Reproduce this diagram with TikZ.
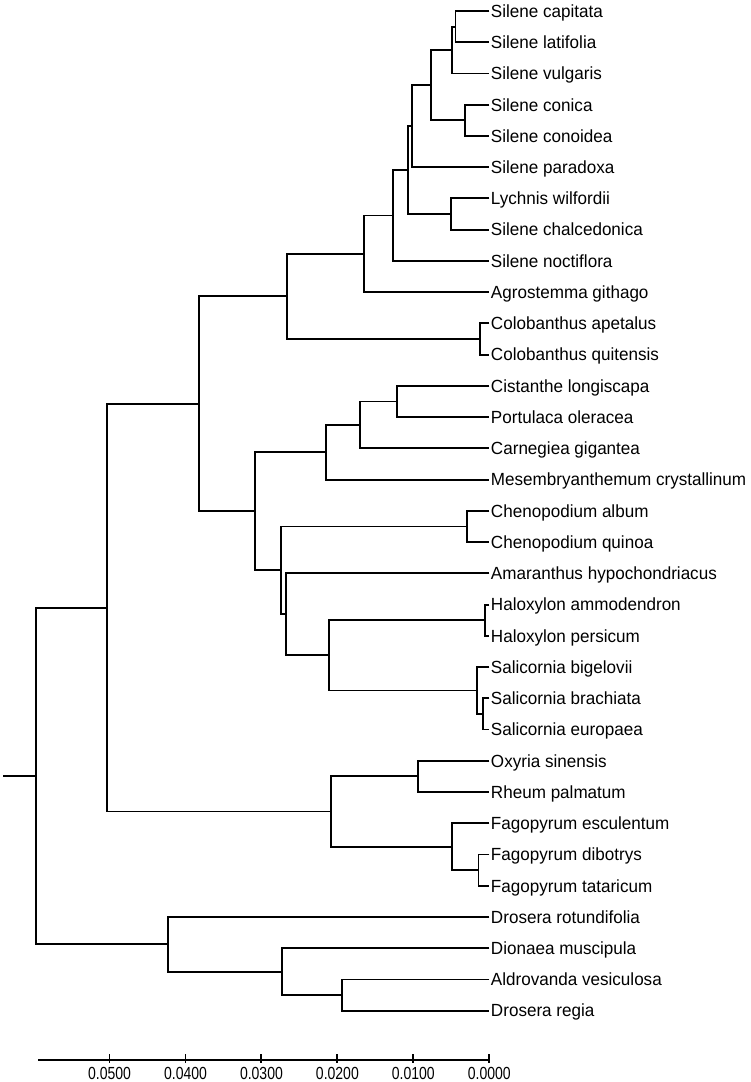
\documentclass[tikz,border=0pt]{standalone}
\usepackage{fontspec}
\newfontfamily\taxonfont{Liberation Sans}[FakeStretch=0.97]
\newfontfamily\axisfont{Liberation Sans}[FakeStretch=0.8]
\usetikzlibrary{calc}
\tikzset{
  branch/.style={line width=1.9pt, black},
  taxon/.style={anchor=west, inner xsep=1.5pt, inner ysep=0pt,
    text height=12.6pt, text depth=0pt,
    font=\taxonfont\fontsize{17.6}{20}\selectfont},
  axislabel/.style={anchor=north, inner sep=0pt,
    font=\axisfont\fontsize{17.5}{20}\selectfont}
}

\begin{document}
\begin{tikzpicture}[x={(-75.95pt,0)}, y={(0,31.24pt)}]
  \useasboundingbox (-489.3pt,11pt) rectangle (260.7pt,-1071pt);

  % Tips: one row per taxon, distance 0 on the right.
  \foreach \id/\taxon [count=\i from 0] in {
      scap/Silene capitata, slat/Silene latifolia, svul/Silene vulgaris,
      scon/Silene conica, scnd/Silene conoidea, spar/Silene paradoxa,
      lwil/Lychnis wilfordii, scha/Silene chalcedonica, snoc/Silene noctiflora,
      agit/Agrostemma githago, cape/Colobanthus apetalus,
      cqui/Colobanthus quitensis, clon/Cistanthe longiscapa,
      pole/Portulaca oleracea, cgig/Carnegiea gigantea,
      mcry/Mesembryanthemum crystallinum, calb/Chenopodium album,
      cqun/Chenopodium quinoa, ahyp/Amaranthus hypochondriacus,
      hamm/Haloxylon ammodendron, hper/Haloxylon persicum,
      sbig/Salicornia bigelovii, sbra/Salicornia brachiata,
      seur/Salicornia europaea, osin/Oxyria sinensis, rpal/Rheum palmatum,
      fesc/Fagopyrum esculentum, fdib/Fagopyrum dibotrys,
      ftat/Fagopyrum tataricum, drot/Drosera rotundifolia,
      dmus/Dionaea muscipula, aves/Aldrovanda vesiculosa, dreg/Drosera regia}
    \node[taxon] (\id) at (0,-\i) {\taxon};

  % Internal nodes (x = distance in units of 0.01).
  \coordinate (capLat)  at (0.445,-0.5);
  \coordinate (capVul)  at (0.495,-1.25);
  \coordinate (conic)   at (0.320,-3.5);
  \coordinate (sileneA) at (0.772,-2.375);
  \coordinate (sileneB) at (1.022,-3.6875);
  \coordinate (lychnis) at (0.508,-6.5);
  \coordinate (sileneC) at (1.074,-5.0938);
  \coordinate (sileneD) at (1.272,-6.5469);
  \coordinate (sileneE) at (1.646,-7.7734);
  \coordinate (coloba)  at (0.122,-10.5);
  \coordinate (caryA)   at (2.668,-9.1367);
  \coordinate (portu)   at (1.219,-12.5);
  \coordinate (cactus)  at (1.702,-13.25);
  \coordinate (mesem)   at (2.154,-14.125);
  \coordinate (cheno)   at (0.298,-16.5);
  \coordinate (halox)   at (0.057,-19.5);
  \coordinate (salicB)  at (0.083,-22.5);
  \coordinate (salicA)  at (0.158,-21.75);
  \coordinate (salHal)  at (2.107,-20.625);
  \coordinate (amaran)  at (2.677,-19.3125);
  \coordinate (amarA)   at (2.746,-17.9063);
  \coordinate (coreB)   at (3.089,-16.0156);
  \coordinate (caryo)   at (3.822,-12.5762);
  \coordinate (rheum)   at (0.939,-24.5);
  \coordinate (fagoB)   at (0.142,-27.5);
  \coordinate (fagoA)   at (0.496,-26.75);
  \coordinate (polyg)   at (2.090,-25.625);
  \coordinate (caryPol) at (5.037,-19.1006);
  \coordinate (aldro)   at (1.945,-31.5);
  \coordinate (dionae)  at (2.729,-30.75);
  \coordinate (droser)  at (4.230,-29.875);
  \coordinate (root)    at (5.968,-24.4878);
  \coordinate (rootStub) at (6.399,-24.4878);

  % Silene and relatives.
  \draw[branch] (scap.west) -| (capLat) |- (slat.west);
  \draw[branch] (capLat) -| (capVul) |- (svul.west);
  \draw[branch] (scon.west) -| (conic) |- (scnd.west);
  \draw[branch] (capVul) -| (sileneA) |- (conic);
  \draw[branch] (sileneA) -| (sileneB) |- (spar.west);
  \draw[branch] (lwil.west) -| (lychnis) |- (scha.west);
  \draw[branch] (sileneB) -| (sileneC) |- (lychnis);
  \draw[branch] (sileneC) -| (sileneD) |- (snoc.west);
  \draw[branch] (sileneD) -| (sileneE) |- (agit.west);
  \draw[branch] (cape.west) -| (coloba) |- (cqui.west);
  \draw[branch] (sileneE) -| (caryA) |- (coloba);

  % Portulacineae and Amaranthaceae.
  \draw[branch] (clon.west) -| (portu) |- (pole.west);
  \draw[branch] (portu) -| (cactus) |- (cgig.west);
  \draw[branch] (cactus) -| (mesem) |- (mcry.west);
  \draw[branch] (calb.west) -| (cheno) |- (cqun.west);
  \draw[branch] (hamm.west) -| (halox) |- (hper.west);
  \draw[branch] (sbra.west) -| (salicB) |- (seur.west);
  \draw[branch] (sbig.west) -| (salicA) |- (salicB);
  \draw[branch] (halox) -| (salHal) |- (salicA);
  \draw[branch] (ahyp.west) -| (amaran) |- (salHal);
  \draw[branch] (cheno) -| (amarA) |- (amaran);
  \draw[branch] (mesem) -| (coreB) |- (amarA);
  \draw[branch] (caryA) -| (caryo) |- (coreB);

  % Polygonaceae.
  \draw[branch] (osin.west) -| (rheum) |- (rpal.west);
  \draw[branch] (fdib.west) -| (fagoB) |- (ftat.west);
  \draw[branch] (fesc.west) -| (fagoA) |- (fagoB);
  \draw[branch] (rheum) -| (polyg) |- (fagoA);
  \draw[branch] (caryo) -| (caryPol) |- (polyg);

  % Droseraceae and the root.
  \draw[branch] (aves.west) -| (aldro) |- (dreg.west);
  \draw[branch] (dmus.west) -| (dionae) |- (aldro);
  \draw[branch] (drot.west) -| (droser) |- (dionae);
  \draw[branch] (caryPol) -| (root) |- (droser);
  \draw[branch] (rootStub) -- (root);

  % Distance scale.
  \coordinate (axisL) at (5.938,-33.58);
  \coordinate (axisR) at (0,-33.58);
  \draw[branch] (axisL) -- (axisR);
  \foreach \t/\lab in {5/0.0500, 4/0.0400, 3/0.0300, 2/0.0200, 1/0.0100, 0/0.0000} {
    \coordinate (tick\t) at (\t,-33.58);
    \draw[branch] ([yshift=6pt]tick\t) -- ([yshift=-3pt]tick\t);
    \node[axislabel] (lab\t) at ([yshift=-7pt]tick\t) {\lab};
  }
\end{tikzpicture}
\end{document}
